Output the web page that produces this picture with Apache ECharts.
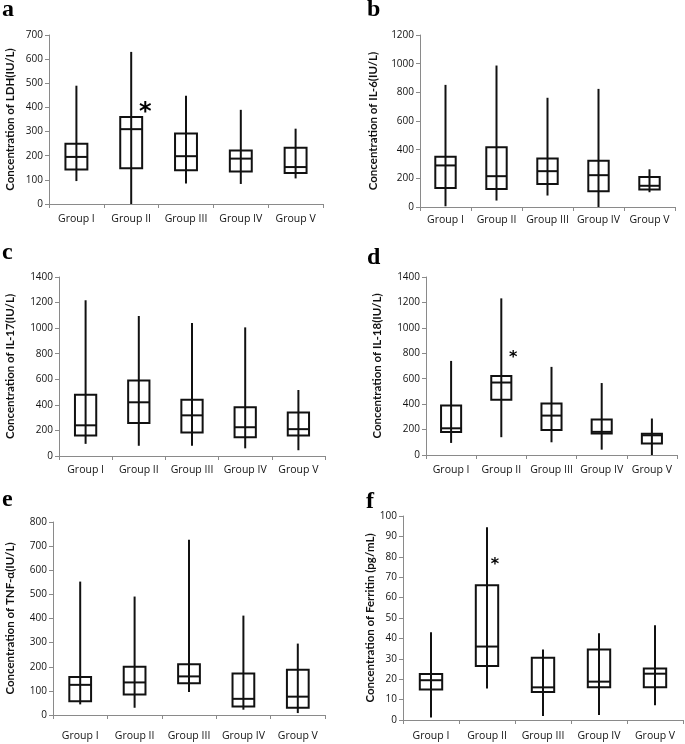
<!DOCTYPE html>
<html>
<head>
<meta charset="utf-8">
<script src="https://cdn.jsdelivr.net/npm/echarts@6/dist/echarts.min.js"></script>
<style>
html,body{margin:0;padding:0;background:#fff;}
#chart{width:685px;height:744px;}
</style>
</head>
<body>
<div id="chart"></div>
<script>
// ---- data ----
const groups = ['Group I', 'Group II', 'Group III', 'Group IV', 'Group V'];
// each row: [min, Q1, median, Q3, max]
const ldh = [[95,143,195,250,490],[0,148,310,360,630],[85,140,198,292,448],[83,135,188,222,390],[106,128,153,233,312]];
const il6 = [[5,133,290,350,852],[45,125,215,417,987],[80,160,250,338,762],[0,110,222,322,824],[103,122,148,210,263]];
const il17 = [[95,160,240,480,1218],[80,258,420,590,1095],[80,183,318,440,1040],[60,147,225,381,1006],[45,160,210,340,516]];
const il18 = [[95,180,210,390,740],[140,435,570,622,1232],[100,197,310,405,693],[42,170,182,280,566],[0,90,155,168,287]];
const tnf = [[44,57,125,157,553],[30,85,135,200,491],[95,132,160,210,726],[22,35,67,172,412],[8,30,76,188,296]];
const ferritin = [[1.2,15,19.5,22.5,43],[15.5,26.5,36,66,94.5],[2,13.7,16,30.5,34.5],[2.5,16,18.8,34.5,42.5],[7.2,16,22.7,25.3,46.5]];
const axisNames = ['Concentration of LDH(IU/L)','Concentration of IL-6(IU/L)','Concentration of IL-17(IU/L)','Concentration of IL-18(IU/L)','Concentration of TNF-\u03b1(IU/L)','Concentration of Ferritin (pg/mL)'];
const yMax = [700,1200,1400,1400,800,100];
const yStep = [100,200,200,200,100,10];
const panelLetters = ['a','b','c','d','e','f'];
// significance marks: [panel, category, value]
const sigMarks = [[0,'Group II',400],[3,'Group II',790],[5,'Group II',77.5]];

const allData = [ldh, il6, il17, il18, tnf, ferritin];

// ---- layout ----
const gridPos = [
  {left:49, top:35, width:274, height:169},
  {left:420, top:35, width:255, height:172},
  {left:59, top:277, width:266, height:179},
  {left:426, top:277, width:251, height:178},
  {left:53, top:522, width:272, height:193},
  {left:403, top:516, width:280, height:204}
];
const nameGaps = [33, 41, 43, 43, 37, 25];
const xLabelMargins = [10, 8, 9, 10, 16, 11];
const letterPos = [[2,22],[367,22],[2,265],[367,270],[2,512],[366,514]];
const sigStyle = [{size:24, dx:14, dy:5},null,null,{size:16, dx:12, dy:3},null,{size:16, dx:8, dy:3}];

const FONT = '"Open Sans", Lato, sans-serif';
const NAMEFONT = 'Lato, "Open Sans", sans-serif';
const axisGray = '#8a8a8a';

const grids = [], xAxes = [], yAxes = [], series = [], graphics = [];

function renderBox(params, api) {
  const x = api.value(0);
  const pMin = api.coord([x, api.value(1)]);
  const pQ1 = api.coord([x, api.value(2)]);
  const pMed = api.coord([x, api.value(3)]);
  const pQ3 = api.coord([x, api.value(4)]);
  const pMax = api.coord([x, api.value(5)]);
  const w = api.size([1, 0])[0] * 0.4;
  const st = {stroke:'#111', lineWidth:2, fill:null};
  return {
    type:'group',
    children:[
      {type:'line', shape:{x1:pMin[0], y1:pMin[1], x2:pMax[0], y2:pMax[1]}, style:st},
      {type:'rect', shape:{x:pQ3[0]-w/2, y:pQ3[1], width:w, height:pQ1[1]-pQ3[1]}, style:{stroke:'#111', lineWidth:2, fill:'rgba(0,0,0,0)'}},
      {type:'line', shape:{x1:pMed[0]-w/2, y1:pMed[1], x2:pMed[0]+w/2, y2:pMed[1]}, style:st}
    ]
  };
}

allData.forEach((d, i) => {
  grids.push(Object.assign({containLabel:false}, gridPos[i]));
  xAxes.push({
    type:'category', gridIndex:i, data:groups, boundaryGap:true,
    axisLine:{lineStyle:{color:axisGray, width:1}},
    axisTick:{show:true, length:4, lineStyle:{color:axisGray}},
    axisLabel:{color:'#111', fontSize:10.5, fontFamily:FONT, margin:xLabelMargins[i], interval:0},
    splitLine:{show:false}
  });
  yAxes.push({
    type:'value', gridIndex:i, min:0, max:yMax[i], interval:yStep[i],
    name:axisNames[i], nameLocation:'middle', nameGap:nameGaps[i],
    nameTextStyle:{fontWeight:'bold', fontSize:11.5, fontFamily:NAMEFONT, color:'#111'},
    axisLine:{show:true, lineStyle:{color:axisGray, width:1}},
    axisTick:{show:true, length:4, lineStyle:{color:axisGray}},
    axisLabel:{color:'#111', fontSize:10, fontFamily:FONT, margin:6, formatter:v => String(v)},
    splitLine:{show:false}
  });
  series.push({
    type:'custom', xAxisIndex:i, yAxisIndex:i,
    renderItem:renderBox,
    encode:{x:0, y:[1,2,3,4,5]},
    data:d.map((r, k) => [k].concat(r)),
    silent:true
  });
  graphics.push({
    type:'text', x:letterPos[i][0], y:letterPos[i][1],
    style:{text:panelLetters[i], font:'bold 24px "Liberation Serif", serif', fill:'#000', verticalAlign:'bottom', align:'left'}
  });
});

sigMarks.forEach(m => {
  const p = m[0], s = sigStyle[p];
  series.push({
    type:'scatter', xAxisIndex:p, yAxisIndex:p,
    data:[[m[1], m[2]]], symbolSize:0, silent:true,
    itemStyle:{color:'#000', opacity:1},
    label:{show:true, formatter:'*', position:'inside', offset:[s.dx, s.dy],
      fontSize:s.size, fontWeight:'bold', fontFamily:'"DejaVu Sans", sans-serif', color:'#000',
      opacity:1, textBorderWidth:0, textBorderColor:'transparent'}
  });
});

const chart = echarts.init(document.getElementById('chart'), null, {renderer:'canvas'});
chart.setOption({
  animation:false,
  backgroundColor:'#fff',
  grid:grids, xAxis:xAxes, yAxis:yAxes, series:series, graphic:graphics
});
</script>
</body>
</html>
